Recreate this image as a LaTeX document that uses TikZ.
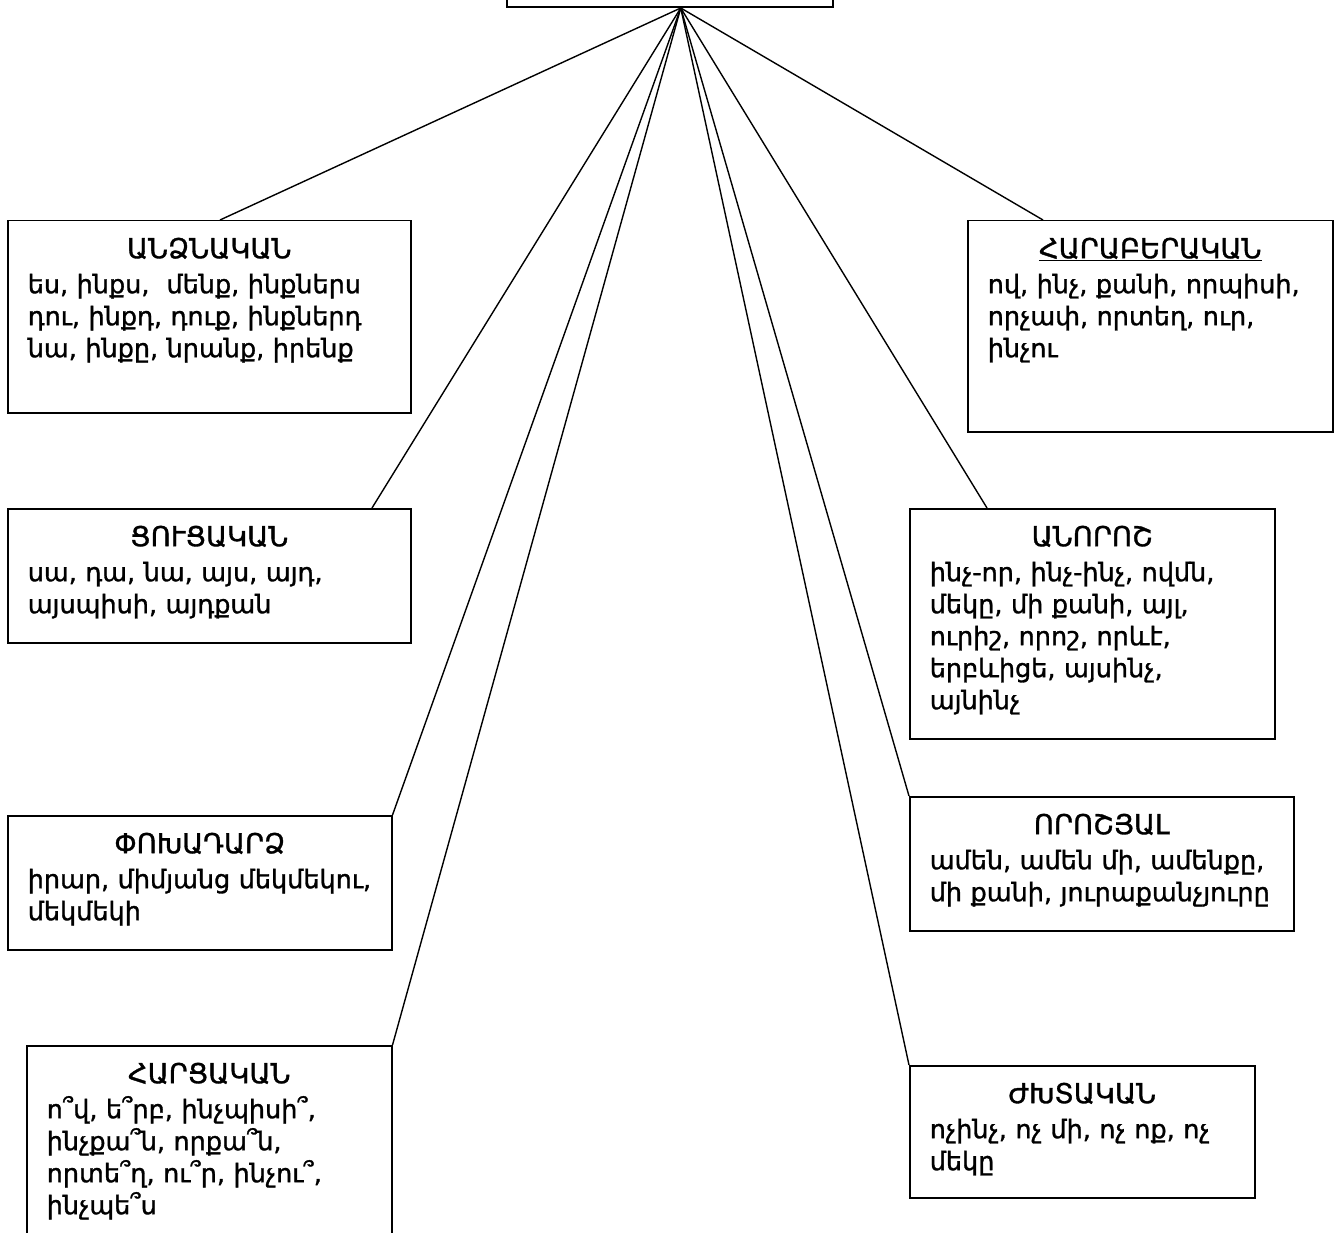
\documentclass[tikz,border=0pt]{standalone}
\usepackage{fontspec}
\setmainfont{DejaVu Sans}[FakeBold=1.2]
\begin{document}
\begin{tikzpicture}[x=1pt,y=-1pt,line width=1.5pt,
  box/.style={draw,anchor=north west,inner sep=0pt,fill=white},
  txt/.style={anchor=north west,inner sep=0pt,align=left,
    font=\fontsize{25.5}{32}\selectfont},
  conn/.style={line width=1.4pt}]
\useasboundingbox (0,0) rectangle (1338,1233);
\clip (0,0) rectangle (1338,1233);
\fill[white] (0,0) rectangle (1338,1233);

% top box (cut off by the page)
\node[draw,inner sep=0pt,anchor=south west,minimum width=326pt,minimum height=80pt] (top) at (506,8) {};
\coordinate (apex) at ([xshift=11pt]top.south);

% boxes
\node[box,minimum width=403pt,minimum height=192pt] (b1) at (7,220) {};
\node[box,minimum width=365pt,minimum height=211pt] (b2) at (967,220) {};
\node[box,minimum width=403pt,minimum height=134pt] (b3) at (7,508) {};
\node[box,minimum width=365pt,minimum height=230pt] (b4) at (909,508) {};
\node[box,minimum width=384pt,minimum height=134pt] (b5) at (7,815) {};
\node[box,minimum width=384pt,minimum height=134pt] (b6) at (909,796) {};
\node[box,minimum width=365pt,minimum height=220pt] (b7) at (26,1045) {};
\node[box,minimum width=345pt,minimum height=132pt] (b8) at (909,1065) {};

% connectors
\draw[conn] (apex) -- ([xshift=213pt]b1.north west);
\draw[conn] (apex) -- ([xshift=76pt]b2.north west);
\draw[conn] (apex) -- ([xshift=365pt]b3.north west);
\draw[conn] (apex) -- ([xshift=78pt]b4.north west);
\draw[conn] (apex) -- (b5.north east);
\draw[conn] (apex) -- (b6.north west);
\draw[conn] (apex) -- (b7.north east);
\draw[conn] (apex) -- (b8.north west);

% texts
\newcommand{\ttlline}[1]{\makebox[\linewidth]{\fontsize{27.5}{32}\selectfont #1}\\[3pt]}
\node[txt,text width=363pt] (t1) at ([xshift=20pt,yshift=-17pt]b1.north west)
  {\ttlline{ԱՆՁՆԱԿԱՆ}
   ես, ինքս,\ \ մենք, ինքներս\\
   դու, ինքդ, դուք, ինքներդ\\
   նա, ինքը, նրանք, իրենք};
\node[txt,text width=325pt] (t2) at ([xshift=20pt,yshift=-17pt]b2.north west)
  {\ttlline{\underline{ՀԱՐԱԲԵՐԱԿԱՆ}}
   ով, ինչ, քանի, որպիսի,\\
   որչափ, որտեղ, ուր,\\
   ինչու};
\node[txt,text width=363pt] (t3) at ([xshift=20pt,yshift=-17pt]b3.north west)
  {\ttlline{ՑՈՒՑԱԿԱՆ}
   սա, դա, նա, այս, այդ,\\
   այսպիսի, այդքան};
\node[txt,text width=325pt] (t4) at ([xshift=20pt,yshift=-17pt]b4.north west)
  {\ttlline{ԱՆՈՐՈՇ}
   ինչ-որ, ինչ-ինչ, ովմն,\\
   մեկը, մի քանի, այլ,\\
   ուրիշ, որոշ, որևէ,\\
   երբևիցե, այսինչ,\\
   այնինչ};
\node[txt,text width=344pt] (t5) at ([xshift=20pt,yshift=-17pt]b5.north west)
  {\ttlline{ՓՈԽԱԴԱՐՁ}
   իրար, միմյանց մեկմեկու,\\
   մեկմեկի};
\node[txt,text width=344pt] (t6) at ([xshift=20pt,yshift=-17pt]b6.north west)
  {\ttlline{ՈՐՈՇՅԱԼ}
   ամեն, ամեն մի, ամենքը,\\
   մի քանի, յուրաքանչյուրը};
\node[txt,text width=325pt] (t7) at ([xshift=20pt,yshift=-17pt]b7.north west)
  {\ttlline{ՀԱՐՑԱԿԱՆ}
   ո՞վ, ե՞րբ, ինչպիսի՞,\\
   ինչքա՞ն, որքա՞ն,\\
   որտե՞ղ, ու՞ր, ինչու՞,\\
   ինչպե՞ս};
\node[txt,text width=305pt] (t8) at ([xshift=20pt,yshift=-17pt]b8.north west)
  {\ttlline{ԺԽՏԱԿԱՆ}
   ոչինչ, ոչ մի, ոչ ոք, ոչ\\
   մեկը};
\end{tikzpicture}
\end{document}
